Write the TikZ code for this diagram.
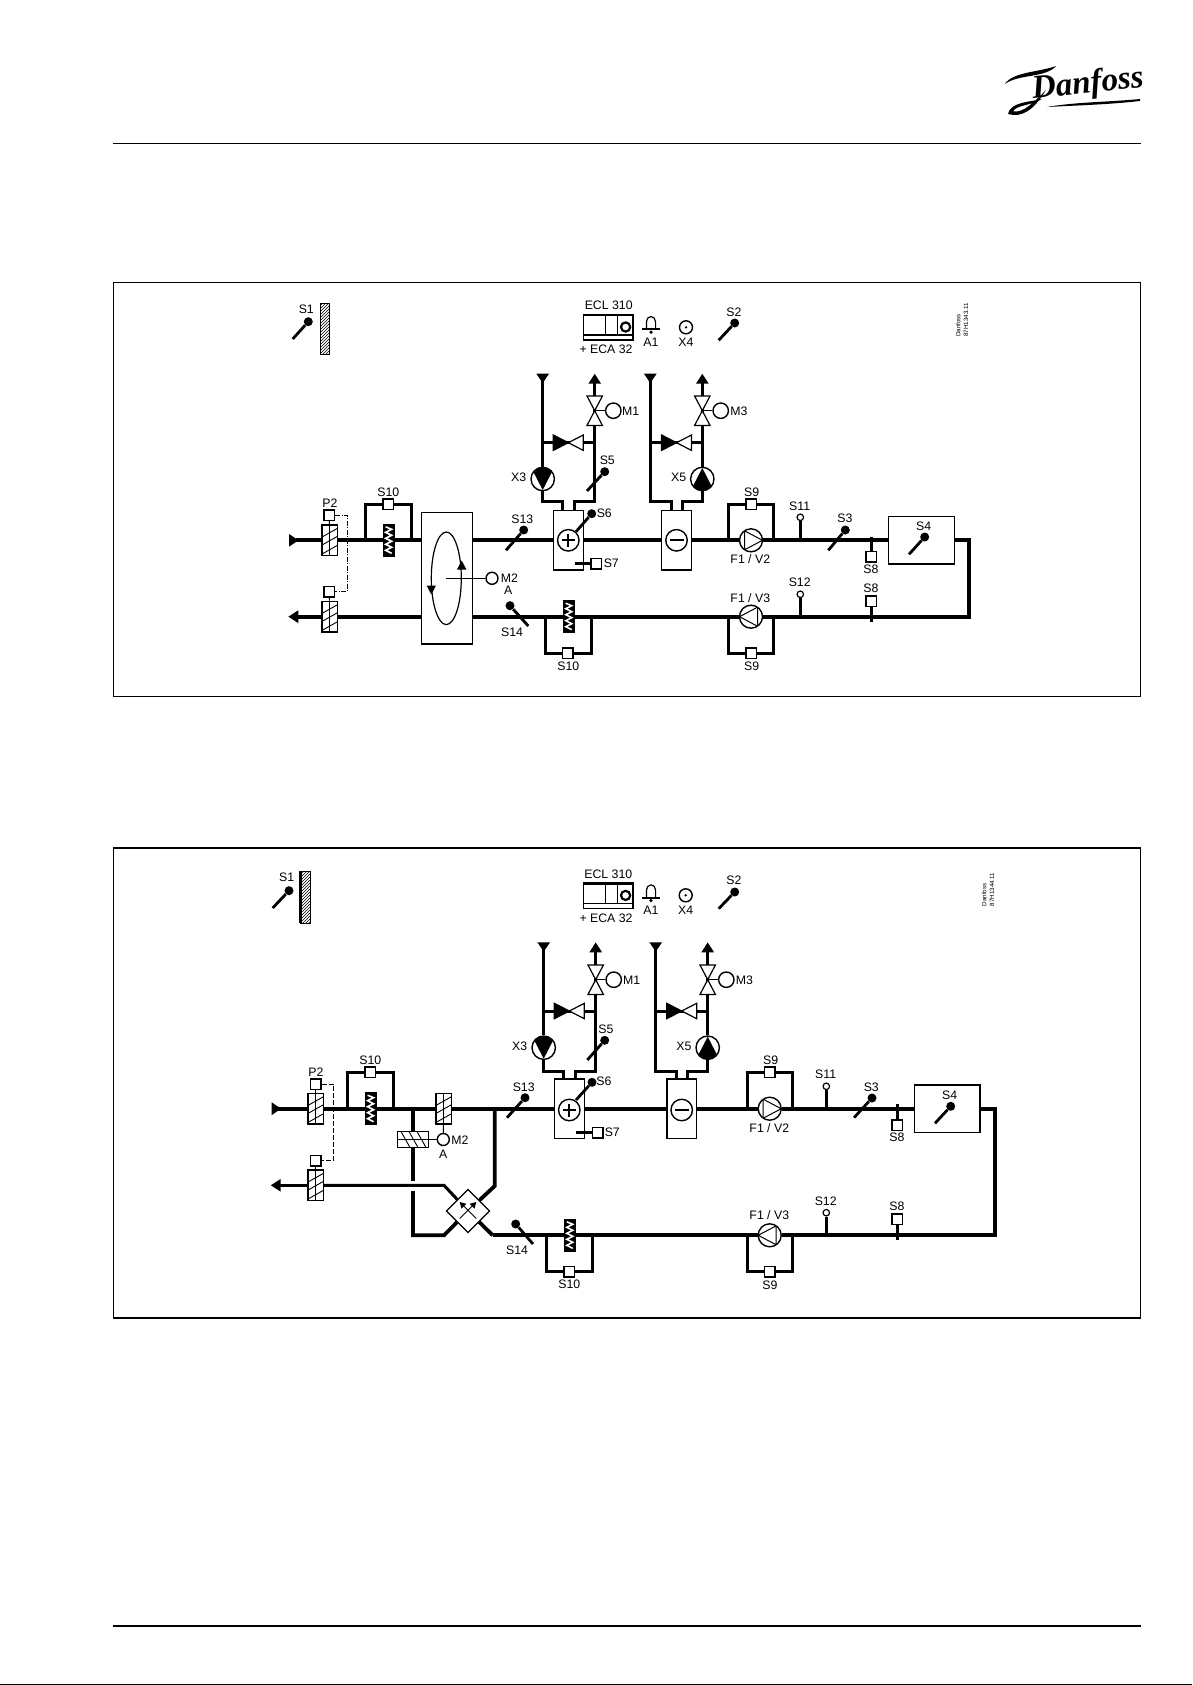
\documentclass[tikz,border=0pt]{standalone}
\usepackage{fontspec}
\setmainfont{Liberation Sans}
\newfontfamily\logofont{Liberation Serif}
\usetikzlibrary{arrows.meta,shapes.geometric,patterns}
\tikzset{
	lbl/.style={inner sep=0pt,font=\fontsize{12.3}{13}\selectfont},
	tinylbl/.style={inner sep=0pt,rotate=90,align=left,font=\fontsize{6.2}{7.6}\selectfont},
	duct/.style={line width=3.8pt},
	pipe/.style={line width=3pt},
	probe/.style={line width=2.8pt},
	wire/.style={line width=1pt},
	frameline/.style={line width=1.2pt},
	intip/.style={{Triangle[reversed,length=9.5pt,width=12pt]}-},
	outtip/.style={-{Triangle[length=10pt,width=12pt]}},
	ppc/.style={shift={(path picture bounding box.center)}},
	bulb/.style={circle,fill=black,minimum size=9pt,inner sep=0pt},
	sqbox/.style={draw,fill=white,line width=1.5pt,minimum size=10.5pt,inner sep=0pt},
	dotc/.style={circle,draw,fill=white,line width=1.2pt,minimum size=6.5pt,inner sep=0pt},
	mcirc/.style={circle,draw,fill=white,line width=1.4pt,minimum size=#1,inner sep=0pt},
	wallbox/.style={draw,line width=.8pt,pattern=north east lines,minimum width=9.5pt,minimum height=51.5pt,inner sep=0pt},
	plainbox/.style={draw,fill=white,line width=1.5pt,inner sep=0pt},
	coilbox/.style={plainbox,minimum width=29.6pt,minimum height=59.4pt},
	plusc/.style={mcirc=21.5pt,path picture={\draw[ppc,line width=2.2pt] (-6.5,0) -- (6.5,0) (0,-6.5) -- (0,6.5);}},
	minusc/.style={mcirc=21.5pt,path picture={\draw[ppc,line width=2.2pt] (-7,0) -- (7,0);}},
	filter/.style={draw,fill=black,line width=.5pt,minimum width=10.5pt,minimum height=32pt,inner sep=0pt,
		path picture={\draw[ppc,white,line width=1.6pt] (-3,-13.5) -- (3,-11) -- (-3,-8) -- (3,-5) -- (-3,-2) -- (3,1) -- (-3,4) -- (3,7) -- (-3,10) -- (3,13);}},
	vdamper/.style={plainbox,minimum width=15.5pt,minimum height=30.6pt,
		path picture={\draw[ppc,line width=.9pt] (0,-16) -- (0,16) (-8,-3) -- (8,-12) (-8,5) -- (8,-4) (-8,14) -- (8,5);}},
	hdamper/.style={plainbox,minimum width=30.6pt,minimum height=15.6pt,
		path picture={\draw[ppc,line width=.9pt] (-16,0) -- (16,0) (-12,-8) -- (-3,8) (-4,-8) -- (5,8) (4,-8) -- (13,8);}},
	fanr/.style={mcirc=23pt,path picture={\draw[ppc,line width=1pt] (-6.5,-10) -- (-6.5,10) (-6.5,-9.5) -- (11.5,0) -- (-6.5,9.5);}},
	fanl/.style={mcirc=23pt,path picture={\draw[ppc,line width=1pt] (6.5,-10) -- (6.5,10) (6.5,-9.5) -- (-11.5,0) -- (6.5,9.5);}},
	pumpd/.style={mcirc=23.4pt,path picture={\fill[ppc,black] (-9,-6.5) -- (-6,-12) -- (6,-12) -- (9,-6.5) -- (0,11) -- cycle;}},
	pumpu/.style={mcirc=23.4pt,path picture={\fill[ppc,black] (-9,6.5) -- (-6,12) -- (6,12) -- (9,6.5) -- (0,-11) -- cycle;}},
	eclbox/.style={plainbox,minimum width=49.6pt,minimum height=25.2pt,
		path picture={\draw[ppc,line width=1.2pt] (-26,-11.6) -- (26,-11.6) (-26,7.7) -- (26,7.7) (-3.2,-12) -- (-3.2,7.7) (9,-12) -- (9,7.7);
			\draw[ppc,line width=2.2pt] (17.3,-.3) circle (4.6);}},
	xfour/.style={mcirc=13pt,path picture={\fill[ppc,black] (0,0) circle (1.3);}},
	hxbox/.style={diamond,draw,fill=white,line width=1.2pt,aspect=1,minimum size=43.5pt,inner sep=0pt,
		path picture={\draw[ppc,black,line width=1pt,-{Triangle[length=6pt,width=6.5pt]}] (8.3,7.5) -- (-8.3,-9);
			\draw[ppc,black,line width=1pt,-{Triangle[length=6pt,width=6.5pt]}] (-8.3,7.5) -- (8.3,-9);}},
	mvalve/.pic={\draw[fill=white,line width=1.2pt] (-7.7,-14.7) -- (7.7,-14.7) -- (0,0) -- cycle (-7.7,14.7) -- (7.7,14.7) -- (0,0) -- cycle;},
	bvalve/.pic={\draw[fill=black,line width=1.2pt] (-15,-7.7) -- (-15,7.7) -- (0,0) -- cycle;
		\draw[fill=white,line width=1.2pt] (15,-7.7) -- (15,7.7) -- (0,0) -- cycle;},
	bellmark/.pic={\draw[line width=1.2pt] (-4.6,6) -- (-4.6,-1) arc[start angle=180,end angle=360,x radius=4.6,y radius=5.5] -- (4.6,6);
		\draw[line width=1.8pt] (-9,6.3) -- (9,6.3);
		\fill (0,9.2) circle (1.8);}
}
\begin{document}
\begin{tikzpicture}[x=1pt,y=-1pt]
	\useasboundingbox (0,0) rectangle (1192,1685);
	% page furniture
	\draw[frameline] (113,143.3) -- (1140.5,143.3);
	\draw[line width=2pt] (113,1625.7) -- (1140.5,1625.7);
	\draw[line width=1pt] (0,1684.4) -- (1192,1684.4);
	\draw[frameline] (113.5,282.5) rectangle (1140.5,696.5);
	\draw[frameline] (113.5,848) rectangle (1140.5,1318);
	% logo
	\node[inner sep=0pt,rotate=6,font=\logofont\bfseries\itshape\fontsize{33}{33}\selectfont] (logo) at (1088,85) {Danfoss};
	\fill (1005,84) .. controls (1012,72) and (1040,72) .. (1056,66) .. controls (1046,78) and (1018,74) .. (1005,84);
	\fill (1047,107) .. controls (1075,102) and (1110,102) .. (1140,99) -- (1140,101) .. controls (1110,104.5) and (1075,105.5) .. (1047,107);
	\fill (1046,90) .. controls (1034,110) and (1022,118) .. (1008,114) .. controls (1010,102) and (1030,102) .. (1042,99) .. controls (1030,106) and (1016,105) .. (1013,111.5) .. controls (1024,113) and (1034,102) .. (1046,90);

	% ---------- upper panel ----------
	\node[lbl] (lS1a) at (306.3,309) {S1};
	\node[bulb] (S1a) at (308.3,321.7) {};
	\coordinate (tS1a) at (292.7,339);
	\node[wallbox] (wa) at (325,329) {};
	\node[lbl] (lECLa) at (608.7,305.7) {ECL 310};
	\node[eclbox] (ECLa) at (608.3,327.3) {};
	\node[lbl] (lECAa) at (606,349.7) {+ ECA 32};
	\coordinate (belA) at (651,323);
	\node[lbl] (lA1a) at (651,342.3) {A1};
	\node[xfour] (X4a) at (686,327.3) {};
	\node[lbl] (lX4a) at (686,342.3) {X4};
	\node[lbl] (lS2a) at (734,312) {S2};
	\node[bulb] (S2a) at (734.7,323) {};
	\coordinate (tS2a) at (718.7,340.3);
	\node[tinylbl] (lDa) at (962,320) {Danfoss\\87H1343.11};

	\coordinate (ina) at (289,540.3);
	\node[vdamper] (P2da) at (329.5,540.3) {};
	\node[vdamper] (P3da) at (329.5,616.7) {};
	\node[sqbox] (P2a) at (329.2,515) {};
	\node[sqbox] (P3a) at (329.2,591.7) {};
	\node[lbl] (lP2a) at (330,503) {P2};
	\coordinate (P2ca) at (347.3,515);
	\coordinate (P3ca) at (347.3,591.7);
	\node[filter] (flta) at (388.6,540.3) {};
	\node[sqbox] (S10a) at (388,504.3) {};
	\node[lbl] (lS10a) at (388.3,492) {S10};
	\coordinate (by1a) at (365.3,540.3);
	\coordinate (by2a) at (411.3,540.3);
	\node[plainbox,minimum width=50.6pt,minimum height=131.3pt] (rotora) at (447,578.35) {};
	\node[ellipse,draw,line width=1.2pt,minimum width=30pt,minimum height=92.6pt,inner sep=0pt] (wheela) at (446.3,578.3) {};
	\node[mcirc=12pt] (M2a) at (492,578.3) {};
	\node[lbl] (lM2a) at (509.3,578.3) {M2};
	\node[lbl] (lAa) at (508.3,590.7) {A};
	\node[bulb] (S13a) at (523.7,530) {};
	\coordinate (tS13a) at (506,550.3);
	\node[lbl] (lS13a) at (522.3,519) {S13};
	\node[bulb] (S14a) at (510,605.7) {};
	\coordinate (tS14a) at (528.3,626);
	\node[lbl] (lS14a) at (512,632.7) {S14};
	\node[filter] (fltla) at (568.7,616.7) {};
	\node[sqbox] (S10la) at (567.7,653.3) {};
	\node[lbl] (lS10la) at (568.3,666) {S10};
	\coordinate (by3a) at (545.7,616.7);
	\coordinate (by4a) at (591,616.7);

	\node[coilbox] (coila) at (568.5,540.3) {};
	\node[plusc] (plusa) at (568.3,540.3) {};
	\node[bulb] (S6a) at (591.7,513.7) {};
	\coordinate (tS6a) at (576,531.7);
	\node[lbl] (lS6a) at (604.3,513.3) {S6};
	\coordinate (tS7a) at (575.3,563.7);
	\node[sqbox] (S7a) at (596.2,563.7) {};
	\node[lbl] (lS7a) at (611.3,563) {S7};
	\node[coilbox] (coola) at (676.5,540.3) {};
	\node[minusc] (minusa) at (676.5,540.3) {};

	\coordinate (supa) at (542.7,373.7);
	\coordinate (reta) at (594.7,373.7);
	\coordinate (hLa) at (562.7,501.7);
	\coordinate (hRa) at (574.2,501.7);
	\coordinate (vM1a) at (594.7,410.7);
	\node[mcirc=15.4pt] (M1a) at (613.3,410.7) {};
	\node[lbl] (lM1a) at (630.7,411) {M1};
	\coordinate (bv1La) at (542.7,442.7);
	\coordinate (bv1Ra) at (594.7,442.7);
	\coordinate (bv1a) at (568.3,442.7);
	\node[pumpd] (X3a) at (542.7,479) {};
	\node[lbl] (lX3a) at (518.7,477.7) {X3};
	\node[bulb] (S5a) at (604.7,471.7) {};
	\coordinate (tS5a) at (587,491);
	\node[lbl] (lS5a) at (607.3,460.3) {S5};

	\coordinate (supb2) at (650.3,373.7);
	\coordinate (retb2) at (702.3,373.7);
	\coordinate (cLa) at (671,501.7);
	\coordinate (cRa) at (682,501.7);
	\coordinate (vM3a) at (702.3,410.7);
	\node[mcirc=15.4pt] (M3a) at (720.7,410.7) {};
	\node[lbl] (lM3a) at (739,411) {M3};
	\coordinate (bv2La) at (650.3,442.7);
	\coordinate (bv2Ra) at (702.3,442.7);
	\coordinate (bv2a) at (676.5,442.7);
	\node[pumpu] (X5a) at (702.3,479) {};
	\node[lbl] (lX5a) at (678.7,477.7) {X5};

	\node[fanr] (Fua) at (751,540.3) {};
	\node[lbl] (lFua) at (750.3,559.3) {F1 / V2};
	\node[sqbox] (S9a) at (751,504.3) {};
	\node[lbl] (lS9a) at (751.7,492.3) {S9};
	\coordinate (by5a) at (728.3,540.3);
	\coordinate (by6a) at (773.3,540.3);
	\node[fanl] (Fla) at (751,616.7) {};
	\node[lbl] (lFla) at (750.3,598.3) {F1 / V3};
	\node[sqbox] (S9la) at (751,653.3) {};
	\node[lbl] (lS9la) at (751.7,666) {S9};
	\coordinate (by7a) at (728.3,616.7);
	\coordinate (by8a) at (773.3,616.7);
	\node[dotc] (S11a) at (800.3,517.3) {};
	\coordinate (bS11a) at (800.3,540.3);
	\node[lbl] (lS11a) at (799.7,506) {S11};
	\node[dotc] (S12a) at (800.3,594.3) {};
	\coordinate (bS12a) at (800.3,616.7);
	\node[lbl] (lS12a) at (799.7,582.7) {S12};
	\node[bulb] (S3a) at (845.3,530) {};
	\coordinate (tS3a) at (828.3,550.3);
	\node[lbl] (lS3a) at (845,518.7) {S3};
	\node[sqbox] (S8a) at (871.3,556.7) {};
	\coordinate (tS8a) at (871.3,536.5);
	\node[lbl] (lS8a) at (871,569.3) {S8};
	\node[sqbox] (S8la) at (871.3,601) {};
	\coordinate (tS8la) at (871.3,621.7);
	\node[lbl] (lS8la) at (871,588) {S8};
	\node[plainbox,minimum width=65.6pt,minimum height=47.4pt] (S4ba) at (921.5,540.3) {};
	\node[bulb] (S4a) at (924.7,537) {};
	\coordinate (tS4a) at (909,554.3);
	\node[lbl] (lS4a) at (923.7,526) {S4};
	\coordinate (crna) at (968.7,540.3);
	\coordinate (crsa) at (968.7,616.7);
	%
	\path[duct]
	(ina) edge[intip] (P2da)
	(P2da) edge (flta)
	(flta) edge (flta -| rotora.west)
	(rotora.east |- flta) edge (coila)
	(coila) edge (coola)
	(coola) edge (Fua)
	(Fua) edge (S4ba)
	(Fla) edge (fltla)
	(fltla) edge (fltla -| rotora.east)
	(fltla -| rotora.west) edge (P3da)
	(P3da) edge[outtip] (288.3,616.7);
	\draw[duct] (S4ba) -- (crna) -- (crsa) -- (Fla);
	\draw[pipe] (by1a) |- (S10a) -| (by2a);
	\draw[pipe] (by3a) |- (S10la) -| (by4a);
	\draw[pipe] (by5a) |- (S9a) -| (by6a);
	\draw[pipe] (by7a) |- (S9la) -| (by8a);
	\draw[pipe,intip] (supa) -- (X3a);
	\draw[pipe] (X3a) |- (hLa) -- (hLa |- coila.north);
	\draw[pipe,outtip] (hRa |- coila.north) -- (hRa) -| (reta);
	\draw[pipe,intip] (supb2) |- (cLa) -- (cLa |- coola.north);
	\draw[pipe] (cRa |- coola.north) -- (cRa) -| (X5a);
	\draw[pipe,outtip] (X5a) -- (retb2);
	\draw[pipe] (bv1La) -- (bv1Ra);
	\draw[pipe] (bv2La) -- (bv2Ra);
	\pic at (vM1a) {mvalve};
	\pic at (vM3a) {mvalve};
	\pic at (bv1a) {bvalve};
	\pic at (bv2a) {bvalve};
	\pic at (belA) {bellmark};
	\fill (461.7,560.5) -- (457,569.5) -- (466.4,569.5) -- cycle;
	\fill (431.3,594.5) -- (426.6,585.5) -- (436,585.5) -- cycle;
	\path[probe]
	(tS1a) edge (S1a)
	(tS2a) edge (S2a)
	(tS3a) edge (S3a)
	(tS4a) edge (S4a)
	(tS5a) edge (S5a)
	(tS6a) edge (S6a)
	(tS13a) edge (S13a)
	(tS14a) edge (S14a)
	(tS7a) edge (S7a)
	(tS8a) edge (S8a)
	(tS8la) edge (S8la)
	(bS11a) edge (S11a)
	(bS12a) edge (S12a);
	\path[wire]
	(vM1a) edge (M1a)
	(vM3a) edge (M3a)
	(wheela.center) edge (M2a)
	(P2a) edge (P2da)
	(P3a) edge (P3da);
	\draw[wire,dash pattern=on 5pt off 1.5pt on 1pt off 1.5pt] (P2a) -- (P2ca) -- (P3ca) -- (P3a);

	% ---------- lower panel ----------
	\node[lbl] (lS1b) at (286.7,877.7) {S1};
	\node[bulb] (S1b) at (289,890.7) {};
	\coordinate (tS1b) at (272.7,908);
	\node[wallbox,minimum width=10.4pt,minimum height=52.3pt] (wb) at (305.5,897.2) {};
	\coordinate (wbt) at (300.6,871);
	\coordinate (wbd) at (300.6,923.3);
	\node[lbl] (lECLb) at (608.3,874) {ECL 310};
	\node[eclbox] (ECLb) at (608.3,895.7) {};
	\node[lbl] (lECAb) at (606,918.7) {+ ECA 32};
	\coordinate (belB) at (651,891.3);
	\node[lbl] (lA1b) at (651,910.7) {A1};
	\node[xfour] (X4b) at (685.7,895.3) {};
	\node[lbl] (lX4b) at (685.7,910.7) {X4};
	\node[lbl] (lS2b) at (734,880.7) {S2};
	\node[bulb] (S2b) at (734.7,892) {};
	\coordinate (tS2b) at (718.7,908.7);
	\node[tinylbl] (lDb) at (988,889.5) {Danfoss\\87H1344.11};

	\coordinate (inb) at (271.7,1108.7);
	\node[vdamper] (P2db) at (315.5,1108.7) {};
	\node[vdamper] (P3db) at (315.5,1185.3) {};
	\node[sqbox] (P2b) at (315.5,1084) {};
	\node[sqbox] (P3b) at (315.5,1160.5) {};
	\node[lbl] (lP2b) at (316,1071.7) {P2};
	\coordinate (P2cb) at (333.3,1084);
	\coordinate (P3cb) at (333.3,1160.5);
	\node[filter] (fltb) at (370.6,1108.7) {};
	\node[sqbox] (S10b) at (370.3,1072) {};
	\node[lbl] (lS10b) at (370.3,1060.7) {S10};
	\coordinate (by1b) at (347.3,1108.7);
	\coordinate (by2b) at (393.3,1108.7);
	\coordinate (br1b) at (413,1108.7);
	\node[hdamper] (Hdb) at (413,1139.5) {};
	\coordinate (br2b) at (413,1180.7);
	\coordinate (br3b) at (413,1191);
	\coordinate (br4b) at (413,1235.3);
	\node[vdamper] (Mdb) at (443.5,1108.7) {};
	\node[mcirc=12pt] (M2b) at (443.3,1139.5) {};
	\node[lbl] (lM2b) at (460,1140) {M2};
	\node[lbl] (lAb) at (443.3,1154.3) {A};
	\coordinate (br5b) at (494.7,1108.7);
	\coordinate (br6b) at (494.7,1186);
	\node[hxbox] (hxb) at (468,1211) {};
	\coordinate (hxNWb) at (444,1185.3);
	\coordinate (hxSWb) at (444,1235.3);
	\coordinate (hxSEb) at (492.7,1235.3);
	\node[bulb] (S13b) at (525,1097.7) {};
	\coordinate (tS13b) at (507,1117.7);
	\node[lbl] (lS13b) at (523.7,1087) {S13};
	\node[bulb] (S14b) at (515.7,1224) {};
	\coordinate (tS14b) at (533,1244);
	\node[lbl] (lS14b) at (517,1250.3) {S14};
	\node[filter] (fltlb) at (569.8,1235.3) {};
	\node[sqbox] (S10lb) at (569.3,1271.5) {};
	\node[lbl] (lS10lb) at (569.3,1284.7) {S10};
	\coordinate (by3b) at (546.7,1235.3);
	\coordinate (by4b) at (592.3,1235.3);

	\node[coilbox] (coilb) at (569.5,1108.7) {};
	\node[plusc] (plusb) at (569.3,1110) {};
	\node[bulb] (S6b) at (592,1082.3) {};
	\coordinate (tS6b) at (576,1100);
	\node[lbl] (lS6b) at (604,1081.7) {S6};
	\coordinate (tS7b) at (576,1132.7);
	\node[sqbox] (S7b) at (597.7,1132.7) {};
	\node[lbl] (lS7b) at (612.3,1132.3) {S7};
	\node[coilbox] (coolb) at (681.7,1108.7) {};
	\node[minusc] (minusb) at (681.7,1110) {};

	\coordinate (supb) at (543.7,942.3);
	\coordinate (retb) at (595.7,942.3);
	\coordinate (hLb) at (563.7,1071.3);
	\coordinate (hRb) at (575.2,1071.3);
	\coordinate (vM1b) at (595.7,979.7);
	\node[mcirc=15.4pt] (M1b) at (613.7,979.7) {};
	\node[lbl] (lM1b) at (631.7,980) {M1};
	\coordinate (bv1Lb) at (543.7,1011);
	\coordinate (bv1Rb) at (595.7,1011);
	\coordinate (bv1b) at (569.3,1011);
	\node[pumpd] (X3b) at (543.7,1047.7) {};
	\node[lbl] (lX3b) at (519.7,1046.3) {X3};
	\node[bulb] (S5b) at (604.7,1040.3) {};
	\coordinate (tS5b) at (587.3,1060);
	\node[lbl] (lS5b) at (606,1029.3) {S5};

	\coordinate (supc) at (655.7,942.3);
	\coordinate (retc) at (707.7,942.3);
	\coordinate (cLb) at (676.2,1071.3);
	\coordinate (cRb) at (687.2,1071.3);
	\coordinate (vM3b) at (707.7,979.7);
	\node[mcirc=15.4pt] (M3b) at (726.3,979.7) {};
	\node[lbl] (lM3b) at (744.3,980) {M3};
	\coordinate (bv2Lb) at (655.7,1011);
	\coordinate (bv2Rb) at (707.7,1011);
	\coordinate (bv2b) at (681.7,1011);
	\node[pumpu] (X5b) at (707.7,1047.7) {};
	\node[lbl] (lX5b) at (684,1046.3) {X5};

	\node[fanr] (Fub) at (769.7,1108.7) {};
	\node[lbl] (lFub) at (769.3,1127.7) {F1 / V2};
	\node[sqbox] (S9b) at (769.7,1072) {};
	\node[lbl] (lS9b) at (770.7,1060.7) {S9};
	\coordinate (by5b) at (747.3,1108.7);
	\coordinate (by6b) at (792.3,1108.7);
	\node[fanl] (Flb) at (769.7,1235.3) {};
	\node[lbl] (lFlb) at (769.3,1214.7) {F1 / V3};
	\node[sqbox] (S9lb) at (769.7,1271.7) {};
	\node[lbl] (lS9lb) at (770,1285) {S9};
	\coordinate (by7b) at (747.3,1235.3);
	\coordinate (by8b) at (792.3,1235.3);
	\node[dotc] (S11b) at (826.3,1086.3) {};
	\coordinate (bS11b) at (826.3,1108.7);
	\node[lbl] (lS11b) at (825.7,1074.7) {S11};
	\node[dotc] (S12b) at (826.3,1212.7) {};
	\coordinate (bS12b) at (826.3,1235.3);
	\node[lbl] (lS12b) at (825.7,1201) {S12};
	\node[bulb] (S3b) at (872,1098) {};
	\coordinate (tS3b) at (854,1117.7);
	\node[lbl] (lS3b) at (871.3,1087.3) {S3};
	\node[sqbox] (S8b) at (897.3,1125.3) {};
	\coordinate (tS8b) at (897.3,1104.3);
	\node[lbl] (lS8b) at (897,1137.7) {S8};
	\node[sqbox] (S8lb) at (897.3,1219.3) {};
	\coordinate (tS8lb) at (897.3,1239.8);
	\node[lbl] (lS8lb) at (897,1206) {S8};
	\node[plainbox,minimum width=65.6pt,minimum height=47.4pt] (S4bb) at (947.3,1108.7) {};
	\node[bulb] (S4b) at (950.7,1106.3) {};
	\coordinate (tS4b) at (935,1123.3);
	\node[lbl] (lS4b) at (949.7,1095) {S4};
	\coordinate (crnb) at (994.7,1108.7);
	\coordinate (crsb) at (994.7,1235.3);
	%
	\path[duct]
	(inb) edge[intip] (P2db)
	(P2db) edge (fltb)
	(fltb) edge (Mdb)
	(Mdb) edge (coilb)
	(coilb) edge (coolb)
	(coolb) edge (Fub)
	(Fub) edge (S4bb)
	(Flb) edge (fltlb)
	(fltlb) edge (hxSEb)
	(br1b) edge (Hdb)
	(Hdb) edge (br2b);
	\draw[duct] (S4bb) -- (crnb) -- (crsb) -- (Flb);
	\draw[duct] (br3b) -- (br4b) -- (hxSWb) -- (hxb);
	\draw[duct] (br5b) -- (br6b) -- (hxb);
	\draw[duct] (hxSEb) -- (hxb);
	\draw[pipe] (hxb) -- (hxNWb) -- (P3db);
	\draw[pipe,outtip] (P3db) -- (270.7,1185.3);
	\draw[pipe] (by1b) |- (S10b) -| (by2b);
	\draw[pipe] (by3b) |- (S10lb) -| (by4b);
	\draw[pipe] (by5b) |- (S9b) -| (by6b);
	\draw[pipe] (by7b) |- (S9lb) -| (by8b);
	\draw[pipe,intip] (supb) -- (X3b);
	\draw[pipe] (X3b) |- (hLb) -- (hLb |- coilb.north);
	\draw[pipe,outtip] (hRb |- coilb.north) -- (hRb) -| (retb);
	\draw[pipe,intip] (supc) |- (cLb) -- (cLb |- coolb.north);
	\draw[pipe] (cRb |- coolb.north) -- (cRb) -| (X5b);
	\draw[pipe,outtip] (X5b) -- (retc);
	\draw[pipe] (bv1Lb) -- (bv1Rb);
	\draw[pipe] (bv2Lb) -- (bv2Rb);
	\pic at (vM1b) {mvalve};
	\pic at (vM3b) {mvalve};
	\pic at (bv1b) {bvalve};
	\pic at (bv2b) {bvalve};
	\pic at (belB) {bellmark};
	\path[probe]
	(tS1b) edge (S1b)
	(tS2b) edge (S2b)
	(tS3b) edge (S3b)
	(tS4b) edge (S4b)
	(tS5b) edge (S5b)
	(tS6b) edge (S6b)
	(tS13b) edge (S13b)
	(tS14b) edge (S14b)
	(tS7b) edge (S7b)
	(tS8b) edge (S8b)
	(tS8lb) edge (S8lb)
	(bS11b) edge (S11b)
	(bS12b) edge (S12b)
	(wbt) edge (wbd);
	\path[wire]
	(vM1b) edge (M1b)
	(vM3b) edge (M3b)
	(Hdb) edge (M2b)
	(M2b) edge (Mdb)
	(P2b) edge (P2db)
	(P3b) edge (P3db);
	\draw[wire,dash pattern=on 5pt off 2pt] (P2b) -- (P2cb) -- (P3cb) -- (P3b);
\end{tikzpicture}
\end{document}
